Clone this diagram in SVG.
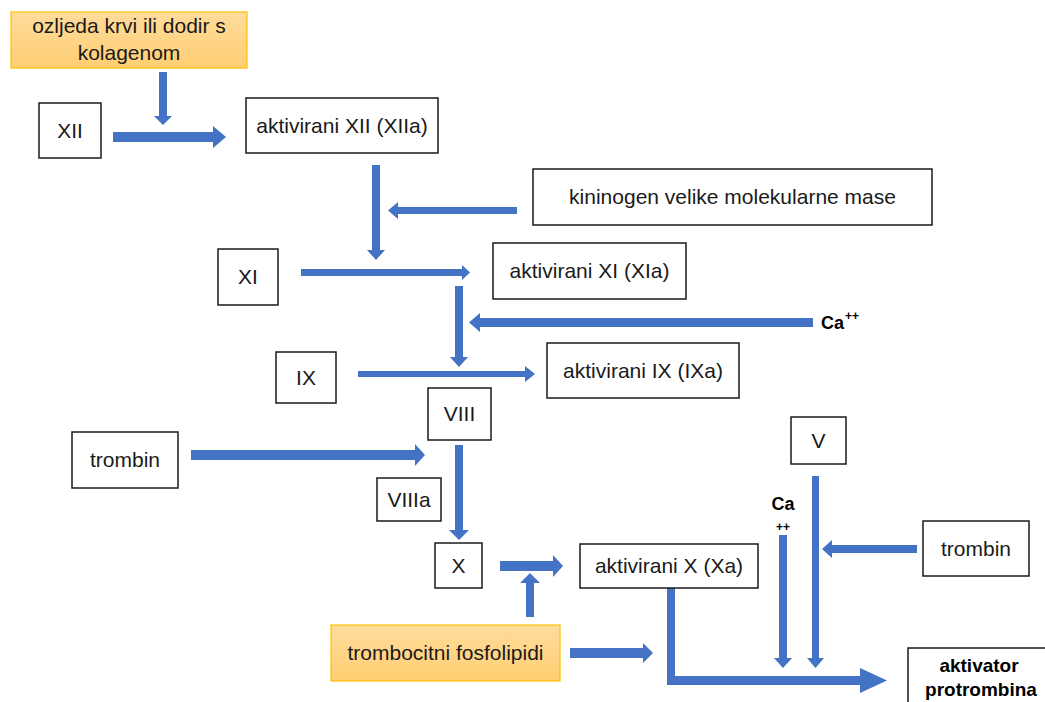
<svg xmlns="http://www.w3.org/2000/svg" width="1045" height="702" viewBox="0 0 1045 702">
<defs>
<linearGradient id="og" x1="0" y1="0" x2="0" y2="1">
<stop offset="0" stop-color="#FFDC9C"/>
<stop offset="1" stop-color="#FFCE72"/>
</linearGradient>
</defs>
<style>
.box{fill:#fff;stroke:#1a1a1a;stroke-width:1.5}
.obox{fill:url(#og);stroke:#FFC000;stroke-width:1.2}
.t{font-family:"Liberation Sans",Arial,sans-serif;font-size:21px;fill:#1a1a1a;text-anchor:middle}
.b{font-family:"Liberation Sans",Arial,sans-serif;font-weight:bold;fill:#000;text-anchor:middle}
.bs{font-family:"Liberation Sans",Arial,sans-serif;font-weight:bold;fill:#000;text-anchor:start}
.arr{fill:#4472C4;stroke:none}
</style>
<rect width="1045" height="702" fill="#fff"/>
<g id="connectors">
<polygon class="arr" points="159,72 167,72 167,116 172,116 163,125 154,116 159,116"/>
<polygon class="arr" points="113,132 213,132 213,126 226,137 213,148 213,142 113,142"/>
<polygon class="arr" points="372,165 380,165 380,250 385,250 376,260 367,250 372,250"/>
<polygon class="arr" points="517,207 398,207 398,202 388,210.5 398,219 398,214 517,214"/>
<polygon class="arr" points="301,269 462,269 462,265 470,272.5 462,280 462,276 301,276"/>
<polygon class="arr" points="455,286 463,286 463,357 468,357 459,367 450,357 455,357"/>
<polygon class="arr" points="813,318 480,318 480,313 469,322.5 480,332 480,327 813,327"/>
<polygon class="arr" points="358,371 525,371 525,366 535,374 525,382 525,377 358,377"/>
<polygon class="arr" points="191,450 415,450 415,444 425,455 415,466 415,460 191,460"/>
<polygon class="arr" points="455,445 463,445 463,530 469,530 459,540 449,530 455,530"/>
<polygon class="arr" points="500,561 553,561 553,555 563,566 553,577 553,571 500,571"/>
<polygon class="arr" points="526,617 534,617 534,583 540,583 530,573 520,583 526,583"/>
<polygon class="arr" points="570,648 643,648 643,643 653,653 643,663 643,658 570,658"/>
<polygon class="arr" points="667,588 675,588 675,676 860,676 860,668 887,680.5 860,693 860,685 667,685"/>
<polygon class="arr" points="779,535 787,535 787,658 792,658 783,668 774,658 779,658"/>
<polygon class="arr" points="812,476 819,476 819,658 824,658 815.5,668 807,658 812,658"/>
<polygon class="arr" points="917,545 832,545 832,540 822,549 832,558 832,553 917,553"/>
</g>
<g id="n-ozljeda"><rect class="obox" x="11" y="12" width="236" height="56"/><text class="t" x="129" y="33">ozljeda krvi ili dodir s</text><text class="t" x="129" y="60">kolagenom</text></g>
<g id="n-xii"><rect class="box" x="39" y="103" width="62" height="55"/><text class="t" x="70" y="138">XII</text></g>
<g id="n-xiia"><rect class="box" x="246" y="98" width="192" height="55"/><text class="t" x="342" y="133">aktivirani XII (XIIa)</text></g>
<g id="n-kininogen"><rect class="box" x="533" y="169" width="399" height="56"/><text class="t" x="732.5" y="204">kininogen velike molekularne mase</text></g>
<g id="n-xi"><rect class="box" x="218" y="249" width="60" height="56"/><text class="t" x="248" y="284">XI</text></g>
<g id="n-xia"><rect class="box" x="493" y="243" width="193" height="56"/><text class="t" x="589.5" y="278">aktivirani XI (XIa)</text></g>
<g id="n-ca1"><text class="bs" x="821" y="329" font-size="18">Ca</text><text class="bs" x="845" y="320" font-size="12">++</text></g>
<g id="n-ix"><rect class="box" x="276" y="352" width="60" height="51"/><text class="t" x="306" y="385">IX</text></g>
<g id="n-ixa"><rect class="box" x="547" y="343" width="192" height="55"/><text class="t" x="643" y="378">aktivirani IX (IXa)</text></g>
<g id="n-viii"><rect class="box" x="428" y="388" width="63" height="52"/><text class="t" x="459.5" y="421">VIII</text></g>
<g id="n-trombin1"><rect class="box" x="72" y="432" width="106" height="56"/><text class="t" x="125" y="467">trombin</text></g>
<g id="n-viiia"><rect class="box" x="377" y="478" width="64" height="43"/><text class="t" x="409" y="507">VIIIa</text></g>
<g id="n-x"><rect class="box" x="435" y="543" width="47" height="45"/><text class="t" x="458.5" y="573">X</text></g>
<g id="n-xa"><rect class="box" x="580" y="544" width="178" height="44"/><text class="t" x="669" y="573">aktivirani X (Xa)</text></g>
<g id="n-v"><rect class="box" x="791" y="417" width="55" height="47"/><text class="t" x="818.5" y="448">V</text></g>
<g id="n-ca2"><text class="b" x="783" y="510" font-size="18">Ca</text><text class="b" x="783" y="531" font-size="12">++</text></g>
<g id="n-trombin2"><rect class="box" x="923" y="521" width="106" height="55"/><text class="t" x="976" y="556">trombin</text></g>
<g id="n-fosfolipidi"><rect class="obox" x="331" y="625" width="229" height="56"/><text class="t" x="445.5" y="660">trombocitni fosfolipidi</text></g>
<g id="n-aktivator"><rect class="box" x="908" y="648" width="150" height="70"/><text class="b" x="979" y="672" font-size="19">aktivator</text><text class="b" x="981" y="696" font-size="19">protrombina</text></g>
</svg>
